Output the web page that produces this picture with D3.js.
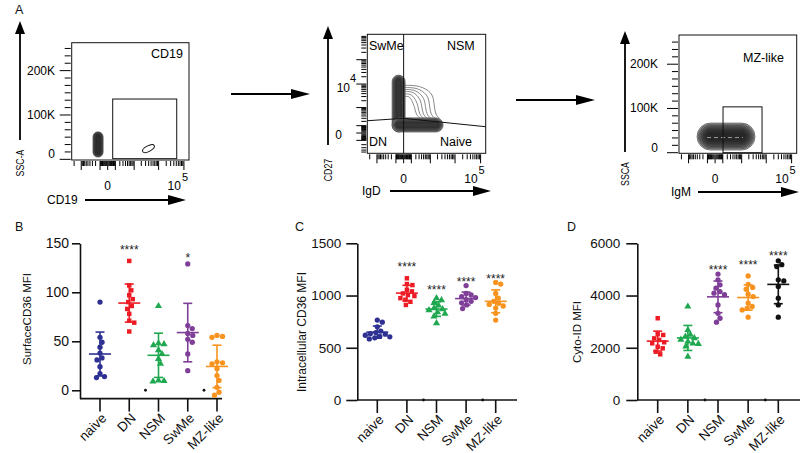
<!DOCTYPE html>
<html><head><meta charset="utf-8">
<script src="https://cdn.jsdelivr.net/npm/d3@7"></script>
<style>html,body{margin:0;padding:0;background:#fff;}</style>
</head><body>
<svg id="fig" width="800" height="453" xmlns="http://www.w3.org/2000/svg"></svg>
<script>
// ================= DATA =================
const categories = ["naive", "DN", "NSM", "SwMe", "MZ-like"];

// Panel B: surface CD36 MFI
const surfaceCD36 = [
  [90, 54, 49, 44, 38, 33, 31, 24, 17, 14, 13],
  [132, 107, 102, 97, 93, 90, 86, 83, 78, 71, 69, 60],
  [86, 48, 47, 46, 41, 37, 32, 27, 10, 9.5, 9],
  [129, 66, 63, 58, 56, 52, 49, 37, 20],
  [56, 55, 54, 29, 28, 27, 22, 15, 10, 3, -2, -5]
];
const surfaceStars = ["", "****", "", "*", ""];
const surfaceStarLevel = [null, 146, null, 138, null];
const surfaceTicks = [0, 50, 100, 150];

// Panel C: intracellular CD36 MFI
const intraCD36 = [
  [765, 745, 700, 660, 645, 635, 630, 620, 610, 605, 595, 585],
  [1165, 1110, 1100, 1055, 1040, 1020, 1005, 995, 975, 960, 940, 910],
  [975, 955, 930, 905, 880, 870, 860, 840, 825, 800, 735],
  [1095, 1020, 1005, 990, 980, 960, 945, 930, 910, 875],
  [1125, 1110, 1020, 975, 945, 925, 915, 900, 880, 830, 765]
];
const intraStars = ["", "****", "****", "****", "****"];
const intraStarLevel = [null, 1302, 1082, 1158, 1187];
const intraTicks = [0, 500, 1000, 1500];

// Panel D: Cyto-ID MFI
const cytoID = [
  [3130, 2520, 2490, 2360, 2300, 2210, 2170, 2040, 1980, 1850, 1750],
  [3580, 2680, 2500, 2430, 2370, 2310, 2240, 2170, 2150, 2050, 1660],
  [4820, 4600, 4410, 4280, 4150, 4090, 4030, 3640, 3320, 3130, 2980],
  [4750, 4430, 4310, 4240, 4050, 3960, 3710, 3580, 3510, 3450, 3170],
  [5330, 5180, 5110, 4600, 4560, 4350, 3900, 3640, 3170]
];
const cytoStars = ["", "", "****", "****", "****"];
const cytoStarLevel = [null, null, 5093, 5284, 5628];
const cytoTicks = [0, 2000, 4000, 6000];

// small stray marks at zero (left of NSM and MZ-like)
const zeroMarkGroups = ["NSM", "MZ-like"];

const colorsBC = ["#2e3192", "#ed1c24", "#1fa84f", "#7f3f98", "#f7931e"];
const shapesBC = ["circle", "square", "triangle", "circle", "circle"];
const colorsD = ["#ed1c24", "#1fa84f", "#7f3f98", "#f7931e", "#111111"];
const shapesD = ["square", "triangle", "circle", "circle", "circle"];

// Panel A flow plots (logicle display units on logicle axes, raw SSC on SSC axes)
const sscLabelValues = [0, 100000, 200000];
const sscLabels = ["0", "100K", "200K"];
const flowXLabelValues = [0, 100000];
const flowXLabels = ["0", "10^5"];
const cd27LabelValues = [0, 10000];
const cd27Labels = ["0", "10^4"];

const cd19Blobs = [{x: [-0.58, -0.18], y: [5000, 62000], rings: 8}];
const cd19Outline = [{x: [1.35, 1.86], y: [14000, 34500]}];
const cd19Gate = {x: [0.197, 2.717], y: [1500, 136000]};

const igdBlobs = [
  {x: [-0.45, 0.06], y: [0.04, 2.37], rings: 7},
  {x: [-0.45, 1.54], y: [0.04, 0.62], rings: 7}
];
const igdQuadV = 0;
const igdQuadH = [[-1.417, 0.503], [0, 0.601], [3.2, 0.258]];
const igdContours = [
  {x0: 0.06, y0: 1.95, x1: 1.2},
  {x0: 0.06, y0: 1.86, x1: 1.02},
  {x0: 0.06, y0: 1.78, x1: 0.86},
  {x0: 0.06, y0: 1.7, x1: 0.72},
  {x0: 0.06, y0: 1.6, x1: 0.58},
  {x0: 0.06, y0: 1.5, x1: 0.45}
];

const igmBlobs = [{x: [-0.71, 1.565], y: [6000, 67000], rings: 9}];
const igmGate = {x: [0.31, 1.84], y: [0, 103600]};

// ================= DRAWING =================
const FONT = "Arial, 'Liberation Sans', Helvetica, sans-serif";
const svg = d3.select("#fig").attr("font-family", FONT);
svg.append("rect").attr("width", 800).attr("height", 453).attr("fill", "#fff");

function arrow(x1, y1, x2, y2, head, hw) {
  const dx = x2 - x1, dy = y2 - y1, L = Math.hypot(dx, dy), ux = dx / L, uy = dy / L;
  const bx = x2 - ux * head, by = y2 - uy * head;
  svg.append("line").attr("x1", x1).attr("y1", y1).attr("x2", bx + ux * 2).attr("y2", by + uy * 2)
    .attr("stroke", "#000").attr("stroke-width", 1.8);
  svg.append("path").attr("d", `M${x2},${y2}L${bx - uy * hw},${by + ux * hw}L${bx + uy * hw},${by - ux * hw}Z`)
    .attr("fill", "#000");
}

function logicle(v) { return Math.sign(v) * Math.log10(1 + Math.abs(v) / 100); }
function logicleTicks(dmin, dmax) {
  const out = [{v: 0, major: true}];
  for (let e = 2; e <= 6; e++) {
    for (let m = 1; m <= 9; m++) {
      const v = m * Math.pow(10, e - 1);
      [v, -v].forEach(s => {
        const f = logicle(s);
        if (f > dmin && f < dmax) out.push({v: s, major: m === 1 && e >= 3});
      });
    }
  }
  return out;
}

function supLabel(g, x, y, txt, anchorX, size) {
  const parts = txt.split("^");
  if (parts.length === 1) {
    g.append("text").attr("x", x).attr("y", y).attr("text-anchor", "middle").attr("font-size", size).text(txt);
  } else {
    g.append("text").attr("x", anchorX - 2).attr("y", y).attr("text-anchor", "end").attr("font-size", size).text(parts[0]);
    g.append("text").attr("x", anchorX - 1).attr("y", y - 9).attr("text-anchor", "start").attr("font-size", size - 1).text(parts[1]);
  }
}

function blob(g, px0, px1, py0, py1, rings) {
  const w = px1 - px0, h = py1 - py0;
  for (let i = 0; i < rings; i++) {
    const ins = i * Math.min(w, h) / (2.5 * rings);
    const ww = w - 2 * ins, hh = h - 2 * ins;
    g.append("rect").attr("x", px0 + ins).attr("y", py0 + ins).attr("width", ww).attr("height", hh)
      .attr("rx", Math.min(ww, hh) / 2).attr("ry", Math.min(ww, hh) / 2)
      .attr("fill", i === 0 ? "#b4b4b4" : "rgba(20,20,20,0.22)")
      .attr("stroke", "#2a2a2a").attr("stroke-width", 0.55);
  }
}

const flowXDomain = [-1.417, 3.2];

function flowPlot(cfg) {
  const g = svg.append("g");
  const b = cfg.box;
  const xs = d3.scaleLinear().domain(flowXDomain).range([b.x0, b.x1]);
  const ys = d3.scaleLinear().domain(cfg.yDomain).range([b.y1, b.y0]);
  const yv = v => cfg.yLog ? ys(logicle(v)) : ys(v);

  // x ticks (logicle)
  logicleTicks(flowXDomain[0], flowXDomain[1]).forEach(t => {
    const x = xs(logicle(t.v));
    g.append("line").attr("x1", x).attr("x2", x).attr("y1", b.y1 + 1).attr("y2", b.y1 + (t.major ? 10 : 6))
      .attr("stroke", "#000").attr("stroke-width", 1);
  });
  // y ticks
  if (cfg.yLog) {
    logicleTicks(cfg.yDomain[0], cfg.yDomain[1]).forEach(t => {
      const y = ys(logicle(t.v));
      g.append("line").attr("y1", y).attr("y2", y).attr("x1", b.x0 - 1).attr("x2", b.x0 - (t.major ? 11 : 6))
        .attr("stroke", "#000").attr("stroke-width", 1);
    });
  } else {
    d3.range(0, cfg.yDomain[1], 50000 / 3).forEach((v, i) => {
      const major = i % 6 === 0;
      const y = ys(v);
      g.append("line").attr("y1", y).attr("y2", y).attr("x1", b.x0 - 1).attr("x2", b.x0 - (major ? 12 : 7))
        .attr("stroke", "#000").attr("stroke-width", 1);
    });
  }
  // y labels
  cfg.yLabelValues.forEach((v, i) => {
    const txt = cfg.yLabels[i];
    const y = yv(v);
    if (txt.includes("^")) {
      const p = txt.split("^");
      g.append("text").attr("x", cfg.yLabelX).attr("y", y + 8).attr("text-anchor", "end").attr("font-size", 12).text(p[0]);
      g.append("text").attr("x", cfg.yLabelX).attr("y", y - 2).attr("text-anchor", "start").attr("font-size", 11).text(p[1]);
    } else {
      g.append("text").attr("x", txt === "0" && cfg.yLog ? cfg.yLabelX - 8 : cfg.yLabelX)
        .attr("y", y + 4 + (v === 0 && !cfg.yLog ? -5 : 0) + (v === 0 && cfg.yLog ? 2 : 0))
        .attr("text-anchor", "end").attr("font-size", 12).text(txt);
    }
  });
  // x labels
  flowXLabelValues.forEach((v, i) => {
    const x = xs(logicle(v));
    supLabel(g, x, b.y1 + 30, flowXLabels[i], x - 1, 12);
  });

  cfg.extra && cfg.extra(g, xs, ys, yv);

  // box
  g.append("rect").attr("x", b.x0).attr("y", b.y0).attr("width", b.x1 - b.x0).attr("height", b.y1 - b.y0)
    .attr("fill", "none").attr("stroke", "#111").attr("stroke-width", 1);

  // texts in box
  cfg.texts.forEach(t => {
    g.append("text").attr("x", t.x).attr("y", t.y).attr("text-anchor", t.anchor || "start")
      .attr("font-size", 12.5).text(t.t);
  });

  // axis arrows + labels
  arrow(cfg.leftArrow.x, cfg.leftArrow.y1, cfg.leftArrow.x, cfg.leftArrow.y2, 13, 5);
  g.append("text").attr("transform", `translate(${cfg.leftArrow.x + 4},${cfg.leftLabelY}) rotate(-90) scale(0.8,1)`)
    .attr("text-anchor", "middle").attr("font-size", 11).text(cfg.yTitle);
  arrow(cfg.bottomArrow.x1, cfg.bottomArrow.y, cfg.bottomArrow.x2, cfg.bottomArrow.y, 18, 5);
  g.append("text").attr("x", cfg.bottomLabelX).attr("y", cfg.bottomArrow.y + 4).attr("font-size", 12).text(cfg.xTitle);
}

// Plot 1: SSC-A vs CD19
flowPlot({
  box: {x0: 71.7, x1: 189, y0: 42.7, y1: 160},
  yDomain: [-1500, 263000], yLog: false,
  yLabelValues: sscLabelValues, yLabels: sscLabels, yLabelX: 55,
  texts: [{t: "CD19", x: 183, y: 58, anchor: "end"}],
  leftArrow: {x: 20, y1: 140, y2: 21}, leftLabelY: 163, yTitle: "SSC-A",
  bottomArrow: {x1: 85, x2: 186, y: 200}, bottomLabelX: 47, xTitle: "CD19",
  extra: (g, xs, ys) => {
    cd19Blobs.forEach(d => blob(g, xs(d.x[0]), xs(d.x[1]), ys(d.y[1]), ys(d.y[0]), d.rings));
    cd19Outline.forEach(d => {
      const cx = (xs(d.x[0]) + xs(d.x[1])) / 2, cy = (ys(d.y[0]) + ys(d.y[1])) / 2;
      g.append("ellipse").attr("cx", cx).attr("cy", cy).attr("rx", (xs(d.x[1]) - xs(d.x[0])) / 2)
        .attr("ry", (ys(d.y[0]) - ys(d.y[1])) / 3.2).attr("transform", `rotate(-28,${cx},${cy})`)
        .attr("fill", "none").attr("stroke", "#111").attr("stroke-width", 1);
    });
    g.append("rect").attr("x", xs(cd19Gate.x[0])).attr("y", ys(cd19Gate.y[1]))
      .attr("width", xs(cd19Gate.x[1]) - xs(cd19Gate.x[0])).attr("height", ys(cd19Gate.y[0]) - ys(cd19Gate.y[1]))
      .attr("fill", "none").attr("stroke", "#111").attr("stroke-width", 1);
  }
});

// Plot 2: CD27 vs IgD
flowPlot({
  box: {x0: 367.3, x1: 485.7, y0: 34.3, y1: 153.3},
  yDomain: [-0.83, 4.04], yLog: true,
  yLabelValues: cd27LabelValues, yLabels: cd27Labels, yLabelX: 350,
  texts: [{t: "SwMe", x: 369, y: 50}, {t: "NSM", x: 447, y: 50}, {t: "DN", x: 369, y: 146}, {t: "Naive", x: 440, y: 146}],
  leftArrow: {x: 328, y1: 145, y2: 26}, leftLabelY: 170, yTitle: "CD27",
  bottomArrow: {x1: 390, x2: 491, y: 191}, bottomLabelX: 362, xTitle: "IgD",
  extra: (g, xs, ys) => {
    const ln = d3.line().x(d => xs(d[0])).y(d => ys(d[1])).curve(d3.curveBasis);
    igdContours.forEach(c => {
      const pts = [[c.x0, c.y0], [c.x0 + 0.5 * (c.x1 - c.x0), c.y0], [c.x1 - 0.08, c.y0 - 0.3],
                   [c.x1 - 0.02, (c.y0 + 0.62) / 2], [c.x1 + 0.03, 0.75], [c.x1 + 0.2, 0.6]];
      g.append("path").attr("d", ln(pts)).attr("fill", "none").attr("stroke", "#6a6a6a").attr("stroke-width", 0.8);
    });
    igdBlobs.forEach(d => blob(g, xs(d.x[0]), xs(d.x[1]), ys(d.y[1]), ys(d.y[0]), d.rings));
    g.append("line").attr("x1", xs(igdQuadV)).attr("x2", xs(igdQuadV)).attr("y1", ys(-0.83)).attr("y2", ys(4.04))
      .attr("stroke", "#111").attr("stroke-width", 1);
    g.append("path").attr("d", d3.line().x(d => xs(d[0])).y(d => ys(d[1]))(igdQuadH))
      .attr("fill", "none").attr("stroke", "#111").attr("stroke-width", 1);
  }
});

// Plot 3: SSC-A vs IgM
flowPlot({
  box: {x0: 679, x1: 796.7, y0: 35, y1: 153.3},
  yDomain: [-1350, 266000], yLog: false,
  yLabelValues: sscLabelValues, yLabels: sscLabels, yLabelX: 658,
  texts: [{t: "MZ-like", x: 743, y: 62}],
  leftArrow: {x: 625, y1: 152, y2: 31}, leftLabelY: 174, yTitle: "SSCA",
  bottomArrow: {x1: 698, x2: 799, y: 192}, bottomLabelX: 671, xTitle: "IgM",
  extra: (g, xs, ys) => {
    igmBlobs.forEach(d => {
      blob(g, xs(d.x[0]), xs(d.x[1]), ys(d.y[1]), ys(d.y[0]), d.rings);
      const cy = (ys(d.y[0]) + ys(d.y[1])) / 2 + 1;
      g.append("line").attr("x1", xs(d.x[0]) + 10).attr("x2", xs(d.x[1]) - 12).attr("y1", cy).attr("y2", cy)
        .attr("stroke", "#ccc").attr("stroke-width", 1).attr("stroke-dasharray", "4,3").attr("opacity", 0.7);
    });
    g.append("rect").attr("x", xs(igmGate.x[0])).attr("y", ys(igmGate.y[1]))
      .attr("width", xs(igmGate.x[1]) - xs(igmGate.x[0])).attr("height", ys(igmGate.y[0]) - ys(igmGate.y[1]))
      .attr("fill", "none").attr("stroke", "#111").attr("stroke-width", 1);
  }
});

// arrows between flow plots
arrow(231, 94, 310, 94, 19, 5);
arrow(516, 100, 595, 100, 19, 5);

// ================= DOT PLOTS =================
function swarm(vals, yfn, minDist) {
  const idx = vals.map((v, i) => i).sort((a, b) => vals[b] - vals[a]);
  const placed = [], off = new Array(vals.length);
  idx.forEach(i => {
    const py = yfn(vals[i]);
    for (let k = 0; k < 400; k++) {
      const cand = (k % 2 ? 1 : -1) * Math.ceil(k / 2) * 0.5;
      if (placed.every(p => (cand - p.x) ** 2 + (py - p.y) ** 2 >= minDist * minDist)) {
        off[i] = cand; placed.push({x: cand, y: py}); break;
      }
    }
  });
  return off;
}

const symbolTypes = {circle: d3.symbolCircle, square: d3.symbolSquare, triangle: d3.symbolTriangle};
const symbolSizes = {circle: 22, square: 20, triangle: 22};

function dotPanel(cfg) {
  const g = svg.append("g");
  const y = d3.scaleLinear().domain(cfg.yDomain).range([cfg.yBottom, cfg.yTop]);
  const x = d3.scalePoint().domain(categories).range([cfg.xFirst, cfg.xLast]);

  const ya = g.append("g").attr("transform", `translate(${cfg.axisX},0)`)
    .call(d3.axisLeft(y).tickValues(cfg.ticks).tickFormat(d3.format("d"))
      .tickSize(cfg.tickLen).tickSizeOuter(0).tickPadding(cfg.pad));
  ya.attr("font-family", FONT).attr("font-size", cfg.tickFont);
  ya.select(".domain").attr("stroke", "#111").attr("stroke-width", 1.6);
  ya.selectAll(".tick line").attr("stroke", "#111").attr("stroke-width", 1.6);
  ya.selectAll(".tick text").attr("fill", "#111");

  // x axis
  g.append("line").attr("x1", cfg.axisX).attr("x2", cfg.axisEnd).attr("y1", cfg.yBottom).attr("y2", cfg.yBottom)
    .attr("stroke", "#111").attr("stroke-width", 1.6);
  categories.forEach(c => {
    g.append("line").attr("x1", x(c)).attr("x2", x(c)).attr("y1", cfg.yBottom).attr("y2", cfg.yBottom + 13)
      .attr("stroke", "#111").attr("stroke-width", 1.6);
    g.append("text").attr("transform", `translate(${x(c) + 4},${cfg.yBottom + 17}) rotate(-45)`)
      .attr("text-anchor", "end").attr("dy", "0.35em").attr("font-size", cfg.catFont).attr("fill", "#111").text(c);
  });

  // zero marks
  zeroMarkGroups.forEach(c => {
    g.append("circle").attr("cx", x(c) - 13).attr("cy", y(0)).attr("r", 1.4).attr("fill", "#111");
  });

  // groups
  cfg.data.forEach((vals, gi) => {
    const cx = x(categories[gi]);
    const col = cfg.colors[gi], sh = cfg.shapes[gi];
    const mean = d3.mean(vals), sd = d3.deviation(vals);
    const off = swarm(vals, y, 5.2);
    vals.forEach((v, i) => {
      g.append("path").attr("d", d3.symbol().type(symbolTypes[sh]).size(symbolSizes[sh])())
        .attr("transform", `translate(${cx + off[i]},${y(v)})`).attr("fill", col);
    });
    const L = (x1, y1, x2, y2) => g.append("line").attr("x1", x1).attr("y1", y1).attr("x2", x2).attr("y2", y2)
      .attr("stroke", col).attr("stroke-width", 1.6);
    L(cx, y(mean + sd), cx, y(mean - sd));
    L(cx - 4.5, y(mean + sd), cx + 4.5, y(mean + sd));
    L(cx - 4.5, y(mean - sd), cx + 4.5, y(mean - sd));
    L(cx - 11, y(mean), cx + 11, y(mean));
    if (cfg.stars[gi]) {
      g.append("text").attr("x", cx).attr("y", y(cfg.starLevel[gi]) + 7).attr("text-anchor", "middle")
        .attr("font-size", 12).attr("fill", "#222").text(cfg.stars[gi]);
    }
  });

  g.append("text").attr("transform", `translate(${cfg.titleX},${cfg.titleY}) rotate(-90)`)
    .attr("text-anchor", "middle").attr("dy", "0.35em").attr("font-size", cfg.titleFont).attr("fill", "#111").text(cfg.title);
  g.append("text").attr("x", cfg.letterX).attr("y", 231).attr("font-size", 12.5).attr("fill", "#111").text(cfg.letter);
}

dotPanel({
  data: surfaceCD36, colors: colorsBC, shapes: shapesBC, stars: surfaceStars, starLevel: surfaceStarLevel,
  yDomain: [-8.5, 150], yBottom: 398.6, yTop: 243.3, ticks: surfaceTicks, tickLen: 8, pad: 3, tickFont: 14,
  axisX: 80, xFirst: 100, xLast: 217, axisEnd: 222, catFont: 13.5,
  title: "SurfaceCD36 MFI", titleX: 27, titleY: 319, titleFont: 11.5, letter: "B", letterX: 15
});
dotPanel({
  data: intraCD36, colors: colorsBC, shapes: shapesBC, stars: intraStars, starLevel: intraStarLevel,
  yDomain: [0, 1500], yBottom: 400, yTop: 243.3, ticks: intraTicks, tickLen: 11, pad: 5, tickFont: 13.5,
  axisX: 357.3, xFirst: 377.3, xLast: 495.7, axisEnd: 517, catFont: 13.5,
  title: "Intracellular CD36 MFI", titleX: 302, titleY: 332, titleFont: 12, letter: "C", letterX: 295
});
dotPanel({
  data: cytoID, colors: colorsD, shapes: shapesD, stars: cytoStars, starLevel: cytoStarLevel,
  yDomain: [0, 6000], yBottom: 400, yTop: 243.3, ticks: cytoTicks, tickLen: 11, pad: 6, tickFont: 13.5,
  axisX: 637.3, xFirst: 657.7, xLast: 778.3, axisEnd: 800, catFont: 13.5,
  title: "Cyto-ID MFI", titleX: 577, titleY: 332, titleFont: 11.5, letter: "D", letterX: 567
});

// Panel A letter
svg.append("text").attr("x", 15).attr("y", 14).attr("font-size", 12.5).attr("fill", "#111").text("A");
</script>
</body></html>
